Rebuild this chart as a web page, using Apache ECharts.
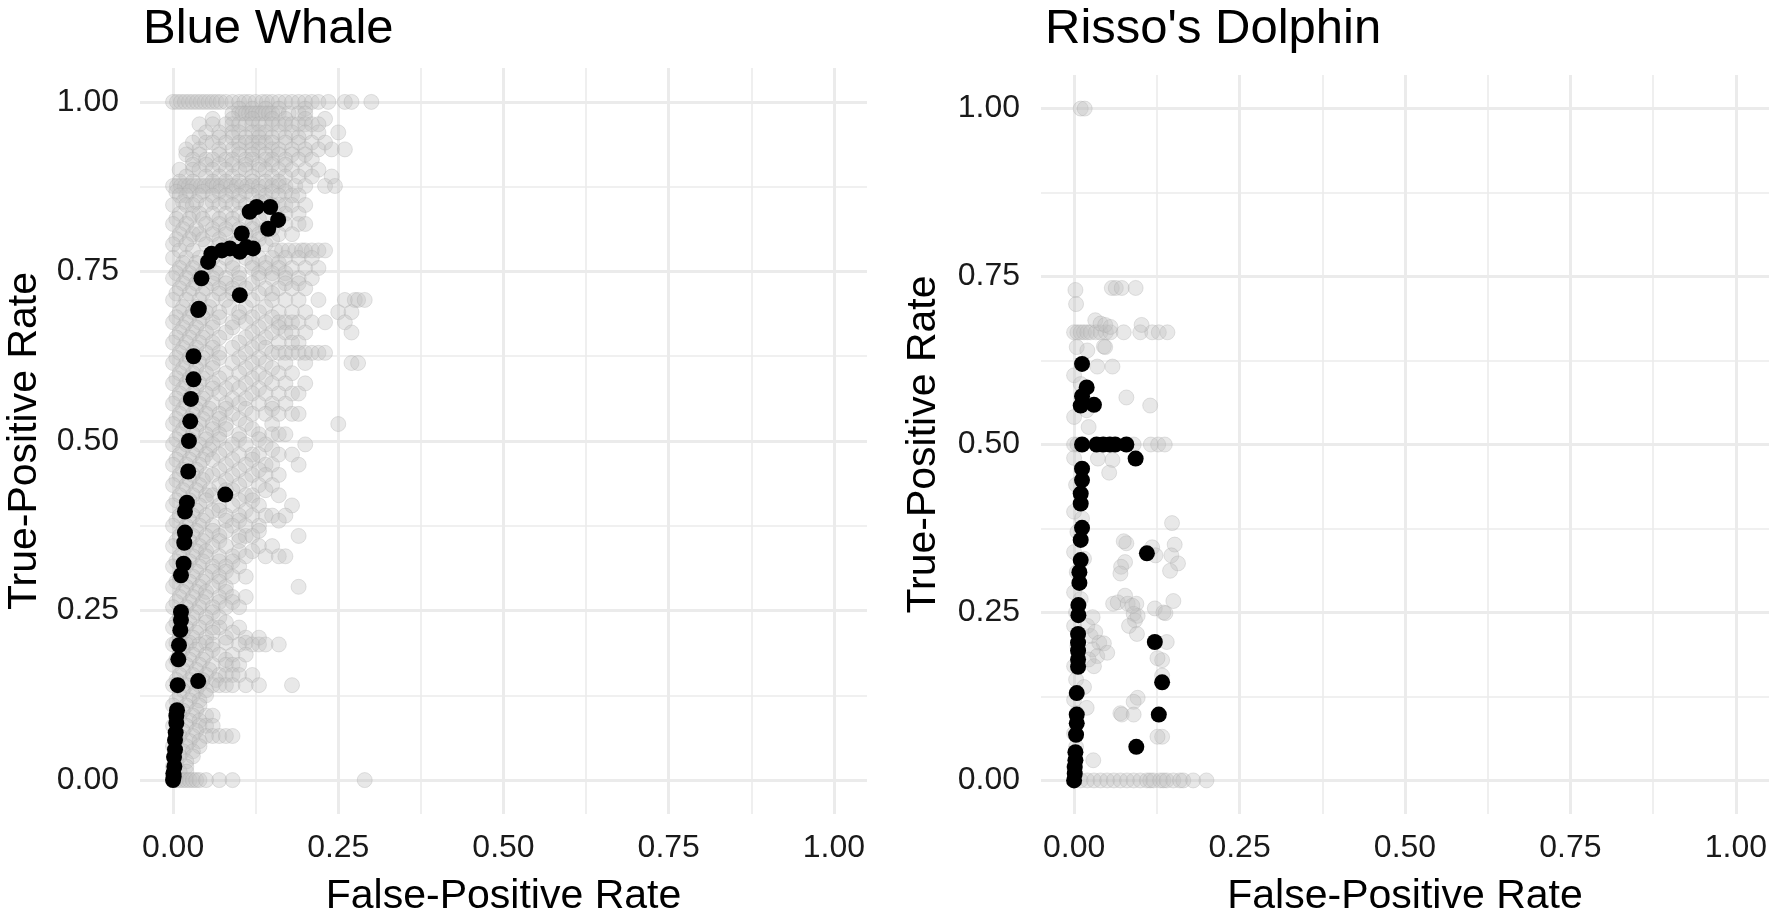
<!DOCTYPE html>
<html><head><meta charset="utf-8">
<script src="https://cdn.jsdelivr.net/npm/echarts@6/dist/echarts.min.js"></script>
<style>html,body{margin:0;padding:0;background:#fff}#c{width:1772px;height:913px}</style>
</head><body><div id="c"></div><script>
const panelTitles = ["Blue Whale", "Risso's Dolphin"];
const xAxisTitle = "False-Positive Rate";
const yAxisTitle = "True-Positive Rate";
const majorTicks = [0, 0.25, 0.5, 0.75, 1];
const minorTicks = [0.125, 0.375, 0.625, 0.875];

// Blue Whale, grey points: rows of [TPR, list of FPR values]
const blueWhaleGreyRows = [
 [1.000,[0,.006,.012,.018,.024,.03,.036,.042,.048,.054,.06,.066,.072,.08,.09,.1,.108,.115,.125,.135,.142,.15,.16,.17,.18,.19,.2,.21,.22,.235,.26,.27,.3]],
 [0.990,[.1,.12,.14,.16,.2]],
 [0.983,[.09,.1,.105,.11,.115,.12,.125,.13,.135,.14,.145,.15,.16,.175,.19,.2]],
 [0.975,[.06,.09,.12,.15,.17,.2,.23]],
 [0.967,[.04,.06,.08,.09,.1,.11,.12,.13,.14,.15,.16,.17,.18,.19,.2,.21,.22]],
 [0.955,[.05,.07,.09,.1,.12,.13,.14,.16,.18,.2,.22,.25]],
 [0.9475,[.04,.07,.09,.11,.13,.15,.17,.19]],
 [0.940,[.03,.05,.06,.08,.1,.11,.12,.13,.14,.15,.17,.19,.21,.23]],
 [0.930,[.02,.04,.07,.09,.1,.12,.13,.15,.16,.18,.2,.22,.24,.26]],
 [0.9225,[.02,.04,.07,.1,.12,.14,.16,.18,.2]],
 [0.915,[.03,.05,.06,.08,.09,.11,.12,.14,.15,.17,.19,.21]],
 [0.9075,[.03,.05,.07,.09,.11,.13,.15,.17]],
 [0.900,[.01,.03,.04,.06,.08,.1,.11,.13,.14,.16,.18,.2,.22]],
 [0.890,[.02,.05,.07,.09,.12,.15,.17,.19,.21,.24]],
 [0.8825,[.01,.03,.06,.08,.1,.12,.14,.16]],
 [0.876,[0,.006,.012,.018,.024,.03,.036,.042,.048,.054,.06,.066,.072,.08,.088,.096,.104,.112,.12,.13,.14,.15,.16,.17,.185,.2,.23,.245]],
 [0.8675,[.005,.025,.045,.07,.09,.11,.13,.15,.17]],
 [0.862,[.01,.02,.04,.06,.08,.1,.12,.14,.16,.18,.19]],
 [0.8525,[.015,.035,.06,.08,.1,.13,.14]],
 [0.848,[0,.02,.03,.05,.07,.09,.11,.15,.16,.17,.18,.2]],
 [0.835,[.01,.03,.04,.06,.08,.1,.14,.17,.19]],
 [0.8275,[.005,.025,.045,.07,.09,.11,.13,.16]],
 [0.820,[0,.02,.05,.07,.09,.12,.17,.19,.2]],
 [0.8125,[.015,.035,.06,.08,.1,.12,.14,.15]],
 [0.805,[.01,.03,.04,.06,.08,.11,.13,.16,.18]],
 [0.7975,[.005,.025,.045,.07,.1,.13,.15]],
 [0.790,[0,.02,.05,.07,.09,.12,.14]],
 [0.781,[.01,.03,.155,.165,.175,.185,.195,.2,.21,.22,.23]],
 [0.770,[0,.02,.04,.06,.08,.11,.13,.15,.17,.19,.21]],
 [0.7625,[.015,.035,.055,.09,.12,.14,.16]],
 [0.755,[.01,.03,.05,.07,.09,.12,.14,.16,.18,.2,.22]],
 [0.7475,[.005,.025,.045,.065,.1,.13,.15,.17]],
 [0.740,[0,.02,.04,.06,.08,.1,.13,.15,.17,.19,.21]],
 [0.7325,[.015,.035,.06,.08,.1,.12,.17,.19]],
 [0.725,[.01,.03,.05,.07,.09,.11,.14,.16,.18,.2]],
 [0.7175,[.005,.025,.045,.07,.09,.13,.15]],
 [0.708,[0,.02,.04,.06,.08,.12,.15,.17,.19,.22,.26,.275,.28,.29]],
 [0.6975,[.015,.035,.055,.085,.11,.14]],
 [0.690,[.01,.03,.05,.07,.1,.13,.16,.18,.2,.25,.27]],
 [0.6825,[.005,.025,.045,.07,.1,.12,.15]],
 [0.675,[0,.02,.04,.06,.09,.11,.14,.16,.17,.18,.19,.21,.23,.26]],
 [0.6675,[.015,.035,.06,.09,.13,.16]],
 [0.660,[.01,.03,.05,.08,.12,.15,.17,.18,.2,.27]],
 [0.6525,[.005,.025,.045,.07,.11,.14]],
 [0.645,[0,.02,.04,.06,.1,.13,.16,.18,.19]],
 [0.6375,[.015,.035,.06,.09,.12,.14]],
 [0.630,[.01,.03,.05,.07,.11,.15,.16,.17,.18,.19,.2,.21,.22,.23]],
 [0.6225,[.005,.025,.045,.07,.1,.13]],
 [0.615,[0,.02,.04,.06,.09,.12,.14,.17,.2,.27,.28]],
 [0.6075,[.015,.035,.06,.11,.15]],
 [0.600,[.01,.03,.05,.08,.1,.13,.16,.18]],
 [0.5925,[.005,.025,.045,.07,.12,.14]],
 [0.585,[0,.02,.04,.06,.09,.11,.15,.17,.2]],
 [0.5775,[.015,.035,.06,.08,.1,.13]],
 [0.570,[.01,.03,.05,.07,.12,.14,.16,.18,.19]],
 [0.5625,[.005,.025,.045,.09,.11]],
 [0.555,[0,.02,.04,.06,.08,.1,.13,.15,.17]],
 [0.5475,[.015,.035,.055,.08,.11,.15]],
 [0.540,[.01,.03,.05,.07,.09,.12,.14,.16,.18,.19]],
 [0.5325,[.005,.025,.045,.07,.1]],
 [0.525,[0,.02,.04,.06,.08,.11,.15,.25]],
 [0.5175,[.015,.035,.06,.08,.12]],
 [0.510,[.01,.03,.05,.07,.1,.13,.15,.16,.17]],
 [0.5025,[.005,.025,.05,.07,.1,.13]],
 [0.495,[0,.02,.04,.06,.09,.11,.14,.2]],
 [0.4875,[.015,.035,.055,.08,.15]],
 [0.480,[.01,.03,.05,.07,.1,.12,.13,.16,.18]],
 [0.4725,[.005,.025,.045,.06,.09,.12]],
 [0.465,[0,.02,.04,.08,.11,.14,.15,.19]],
 [0.4575,[.015,.035,.07,.1,.13]],
 [0.450,[.01,.03,.05,.06,.09,.12,.14,.16]],
 [0.4425,[.005,.025,.045,.08,.11]],
 [0.435,[0,.02,.04,.07,.1,.13,.15]],
 [0.4275,[.015,.035,.055,.08,.09,.14]],
 [0.420,[.01,.03,.05,.06,.11,.12,.16]],
 [0.4125,[.005,.025,.05,.1,.12]],
 [0.405,[0,.02,.04,.07,.09,.13,.18]],
 [0.3975,[.015,.035,.06,.07,.11]],
 [0.390,[.01,.03,.05,.08,.1,.12,.14,.15,.17]],
 [0.3825,[.005,.025,.045,.08,.1,.16]],
 [0.375,[0,.02,.04,.06,.09,.11,.13]],
 [0.3675,[.015,.035,.06,.08,.13]],
 [0.360,[.01,.03,.05,.07,.1,.11,.12,.19]],
 [0.3525,[.005,.025,.045,.07,.1]],
 [0.345,[0,.02,.04,.06,.08,.13,.15]],
 [0.3375,[.015,.035,.05,.1,.12]],
 [0.330,[.01,.03,.05,.07,.09,.11,.14,.16,.17]],
 [0.3225,[.005,.025,.045,.07,.09]],
 [0.315,[0,.02,.04,.06,.08,.1]],
 [0.3075,[.015,.035,.06,.08]],
 [0.300,[.01,.03,.05,.07,.09,.11]],
 [0.2925,[.005,.025,.045,.07]],
 [0.285,[0,.02,.04,.06,.08,.19]],
 [0.2775,[.015,.035,.05,.08]],
 [0.270,[.01,.03,.05,.07,.09,.11]],
 [0.2625,[.005,.025,.045,.07,.09]],
 [0.255,[0,.02,.04,.06,.08,.1]],
 [0.2475,[.015,.035,.06]],
 [0.240,[.01,.03,.05,.07]],
 [0.2325,[.005,.025,.05,.08]],
 [0.225,[0,.02,.04,.06,.07,.1]],
 [0.2175,[.015,.035,.06,.09]],
 [0.210,[.01,.03,.05,.08,.11,.13]],
 [0.2025,[.005,.025,.05,.08,.11]],
 [0.200,[0,.02,.04,.06,.1,.12,.13,.14,.16]],
 [0.1925,[.015,.035,.06]],
 [0.185,[.01,.03,.05,.07,.09,.11]],
 [0.1775,[.005,.025,.045,.08]],
 [0.170,[0,.02,.04,.06,.08,.09,.1]],
 [0.1625,[.015,.035,.055]],
 [0.155,[.01,.03,.05,.07,.08,.09,.1,.12]],
 [0.1475,[.005,.025,.045,.065]],
 [0.140,[0,.02,.04,.06,.07,.08,.09,.11,.13,.18]],
 [0.1325,[.015,.035,.05]],
 [0.125,[.01,.03,.05]],
 [0.1175,[.005,.025,.04]],
 [0.110,[0,.02,.04]],
 [0.1025,[.015,.035]],
 [0.095,[.01,.03,.05,.06]],
 [0.0875,[.005,.025,.04]],
 [0.080,[0,.02,.04,.05,.06]],
 [0.0725,[.015,.035]],
 [0.065,[.01,.03,.05,.06,.07,.08,.09]],
 [0.0575,[.005,.025,.04]],
 [0.050,[0,.02,.04]],
 [0.0425,[.015,.03]],
 [0.035,[.01,.03]],
 [0.0275,[.005,.02]],
 [0.020,[0,.02]],
 [0.0125,[.01,.02]],
 [0.000,[0,.005,.01,.015,.02,.025,.03,.035,.04,.05,.07,.09,.29]]
];

// Blue Whale, black points [FPR, TPR]
const blueWhaleBlack = [
 [.1265,.845],[.147,.845],[.116,.838],[.159,.826],[.144,.813],[.104,.806],
 [.111,.786],[.121,.784],[.101,.779],[.086,.784],[.074,.781],[.058,.776],[.053,.764],
 [.043,.740],[.101,.715],[.038,.693],[.039,.695],
 [.031,.625],[.031,.591],[.027,.562],[.026,.529],[.024,.500],[.023,.455],[.079,.421],
 [.021,.409],[.018,.396],[.018,.365],[.017,.350],[.016,.319],[.012,.302],
 [.012,.248],[.012,.236],[.011,.221],[.009,.199],[.008,.178],[.007,.140],[.038,.146],
 [.006,.103],[.005,.095],[.005,.084],[.004,.070],[.003,.059],[.003,.045],[.0015,.034],
 [.002,.020],[.0005,.010],[.001,.005],[0,0]
];

// Risso's Dolphin, grey points [FPR, TPR]
const rissoGrey = [
 [.01,1],[.016,1],
 [.002,.73],[.003,.709],[.057,.733],[.063,.733],[.072,.733],[.093,.733],
 [0,.667],[.005,.667],[.01,.667],[.015,.667],[.02,.667],[.025,.667],[.033,.667],[.04,.667],[.048,.667],[.055,.667],
 [.075,.667],[.1,.667],[.118,.667],[.128,.667],[.141,.667],
 [.032,.685],[.04,.68],[.047,.678],[.055,.675],[.102,.678],
 [.004,.645],[.02,.64],[.045,.646],[.047,.645],
 [.035,.616],[.058,.616],
 [0,.603],[.01,.59],[.079,.57],[.115,.558],[.019,.551],[0,.541],[.022,.526],
 [0,.5],[.005,.5],[.09,.5],[.116,.5],[.127,.5],[.137,.5],
 [.036,.479],[.058,.477],[.053,.458],
 [0,.48],[.003,.44],[0,.40],[.005,.37],[0,.34],[.004,.31],[0,.28],[.003,.25],[0,.23],[.005,.2],
 [0,.17],[.003,.15],[0,.12],[.004,.1],[0,.07],[.003,.05],[0,.02],[.012,.39],[.015,.33],[.01,.27],
 [.148,.383],[.079,.353],[.075,.356],[.152,.351],[.118,.347],[.147,.335],[.123,.335],[.157,.323],
 [.077,.325],[.071,.318],[.07,.308],[.145,.312],
 [.077,.275],[.059,.263],[.066,.265],[.081,.263],[.094,.263],[.122,.256],[.135,.25],[.138,.249],
 [.15,.267],[.09,.248],[.092,.238],[.096,.245],[.088,.26],[.083,.23],[.095,.218],
 [.02,.23],[.025,.215],[.032,.221],[.038,.205],[.045,.204],[.028,.195],[.035,.185],[.05,.19],[.022,.18],[.028,.243],[.03,.17],
 [.14,.206],[.133,.179],[.126,.182],[.133,.156],[.096,.123],[.09,.117],[.07,.1],[.072,.098],[.09,.098],
 [.133,.065],[.126,.065],[.019,.108],[.015,.139],[.029,.03],
 [.01,0],[.02,0],[.03,0],[.04,0],[.05,0],[.06,0],[.07,0],[.08,0],[.09,0],[.1,0],[.11,0],[.115,0],
 [.12,0],[.13,0],[.135,0],[.14,0],[.15,0],[.16,0],[.165,0],[.18,0],[.2,0]
];

// Risso's Dolphin, black points [FPR, TPR]
const rissoBlack = [
 [.012,.62],[.019,.585],[.012,.572],[.03,.559],[.01,.558],
 [.012,.5],[.034,.5],[.044,.5],[.054,.5],[.062,.5],[.079,.5],[.093,.479],
 [.012,.464],[.012,.447],[.01,.427],[.01,.412],[.012,.376],[.01,.358],[.11,.338],[.01,.328],
 [.008,.31],[.008,.294],[.0065,.261],[.0065,.246],[.122,.206],
 [.006,.218],[.006,.205],[.006,.193],[.006,.18],[.006,.169],
 [.133,.146],[.004,.13],[.128,.098],[.004,.098],[.004,.085],[.003,.068],[.094,.05],
 [.002,.042],[.002,.03],[.001,.02],[.001,.01],[0,0]
];

const blueWhaleGrey = blueWhaleGreyRows.flatMap(([tpr, fprs]) => fprs.map(f => [f, tpr]));

const FONT = "'Liberation Sans', Arial, sans-serif";
const grids = [
  {left: 140, top: 68, width: 727, height: 746, outerBoundsMode: 'none', containLabel: false},
  {left: 1041, top: 75, width: 728, height: 739, outerBoundsMode: 'none', containLabel: false}
];
const gridColor = '#EBEBEB';

const xAxes = [], yAxes = [];
grids.forEach((g, i) => {
  xAxes.push({
    type: 'value', gridIndex: i, min: -0.05, max: 1.05,
    name: xAxisTitle, nameLocation: 'middle', nameGap: 62,
    nameTextStyle: {fontSize: 41, color: '#000', fontFamily: FONT},
    axisLine: {show: false},
    axisTick: {show: false, customValues: majorTicks},
    axisLabel: {customValues: majorTicks, formatter: v => v.toFixed(2), fontSize: 32, color: '#1a1a1a', fontFamily: FONT, margin: 18},
    splitLine: {show: true, lineStyle: {color: gridColor, width: 3}}
  });
  xAxes.push({
    type: 'value', gridIndex: i, min: -0.05, max: 1.05,
    axisLine: {show: false},
    axisTick: {show: false, customValues: minorTicks},
    axisLabel: {show: false},
    splitLine: {show: true, lineStyle: {color: gridColor, width: 1.6}}
  });
  yAxes.push({
    type: 'value', gridIndex: i, min: -0.05, max: 1.05,
    name: yAxisTitle, nameLocation: 'middle', nameGap: i === 0 ? 95 : 97,
    nameTextStyle: {fontSize: 41, color: '#000', fontFamily: FONT},
    axisLine: {show: false},
    axisTick: {show: false, customValues: majorTicks},
    axisLabel: {customValues: majorTicks, formatter: v => v.toFixed(2), fontSize: 32, color: '#1a1a1a', fontFamily: FONT, margin: 21},
    splitLine: {show: true, lineStyle: {color: gridColor, width: 3}}
  });
  yAxes.push({
    type: 'value', gridIndex: i, min: -0.05, max: 1.05,
    axisLine: {show: false},
    axisTick: {show: false, customValues: minorTicks},
    axisLabel: {show: false},
    splitLine: {show: true, lineStyle: {color: gridColor, width: 1.6}}
  });
});

const greyStyle = {color: 'rgba(190,190,190,0.36)', borderColor: 'rgba(165,165,165,0.3)', borderWidth: 1, opacity: 1};
const blackStyle = {color: '#000', opacity: 1};
const series = [
  {type: 'scatter', xAxisIndex: 0, yAxisIndex: 0, data: blueWhaleGrey, symbolSize: 15, itemStyle: greyStyle, z: 3, silent: true, large: false},
  {type: 'scatter', xAxisIndex: 0, yAxisIndex: 0, data: blueWhaleBlack, symbolSize: 16, itemStyle: blackStyle, z: 4, silent: true},
  {type: 'scatter', xAxisIndex: 2, yAxisIndex: 2, data: rissoGrey, symbolSize: 15, itemStyle: greyStyle, z: 3, silent: true},
  {type: 'scatter', xAxisIndex: 2, yAxisIndex: 2, data: rissoBlack, symbolSize: 16, itemStyle: blackStyle, z: 4, silent: true}
];

const chart = echarts.init(document.getElementById('c'), null, {renderer: 'canvas'});
chart.setOption({
  animation: false,
  backgroundColor: '#fff',
  title: [
    {text: panelTitles[0], left: 138, top: 0, textStyle: {fontSize: 49, fontWeight: 'normal', color: '#000', fontFamily: FONT}},
    {text: panelTitles[1], left: 1040, top: 0, textStyle: {fontSize: 49, fontWeight: 'normal', color: '#000', fontFamily: FONT}}
  ],
  grid: grids,
  xAxis: xAxes,
  yAxis: yAxes,
  series: series
});
</script></body></html>
